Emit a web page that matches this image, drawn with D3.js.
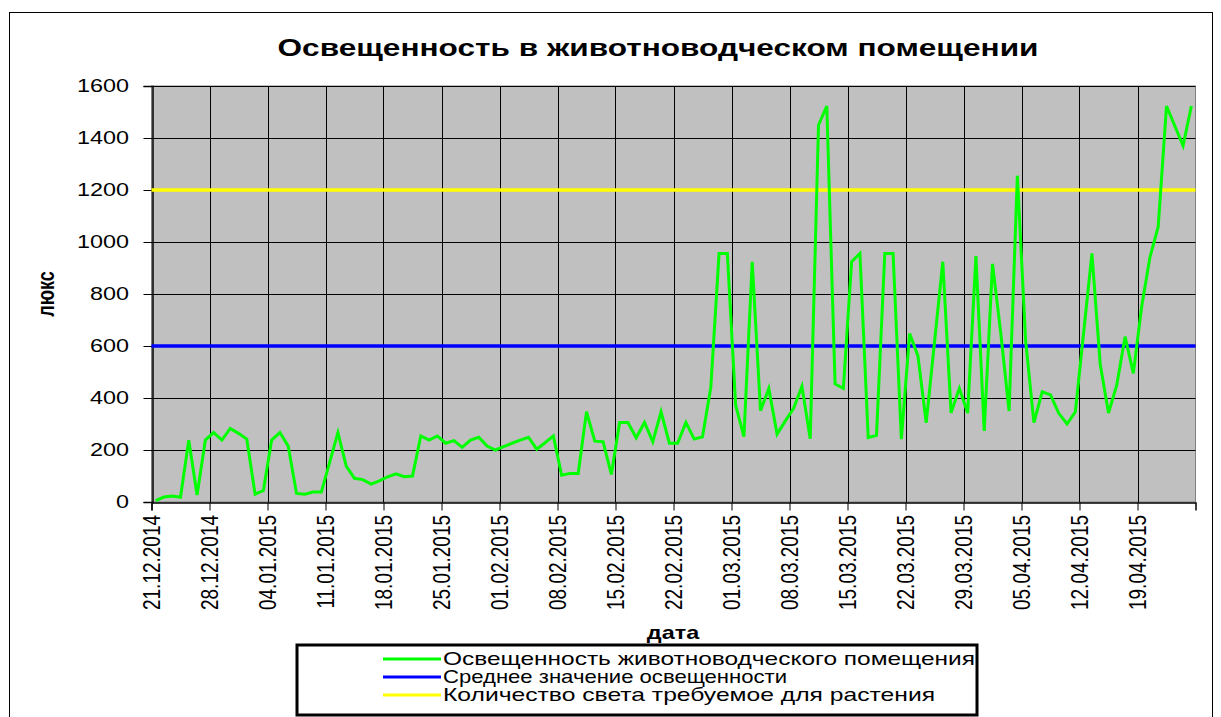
<!DOCTYPE html>
<html><head><meta charset="utf-8">
<script src="https://cdn.jsdelivr.net/npm/d3@7"></script>
<style>
body{margin:0;background:#fff}
svg{display:block}
text{font-family:"Liberation Sans",Arial,sans-serif;fill:#000}
</style>
</head><body>
<svg id="chart" width="1221" height="717"></svg>
<script>
// ---------------- DATA ----------------
const chartTitle = "Освещенность в животноводческом помещении";
const xAxisTitle = "дата";
const yAxisTitle = "люкс";

const dates = [
  "21.12.2014","22.12.2014","23.12.2014","24.12.2014","25.12.2014","26.12.2014","27.12.2014","28.12.2014","29.12.2014","30.12.2014","31.12.2014",
  "01.01.2015","02.01.2015","03.01.2015","04.01.2015","05.01.2015","06.01.2015","07.01.2015","08.01.2015","09.01.2015","10.01.2015",
  "12.01.2015","13.01.2015","14.01.2015","15.01.2015","16.01.2015","17.01.2015","18.01.2015","19.01.2015","20.01.2015","21.01.2015",
  "22.01.2015","23.01.2015","24.01.2015","25.01.2015","26.01.2015","27.01.2015","28.01.2015","29.01.2015","30.01.2015","31.01.2015",
  "01.02.2015","02.02.2015","03.02.2015","04.02.2015","05.02.2015","06.02.2015","07.02.2015","08.02.2015","09.02.2015","10.02.2015",
  "11.02.2015","12.02.2015","13.02.2015","14.02.2015","15.02.2015","16.02.2015","17.02.2015","18.02.2015","19.02.2015","20.02.2015",
  "21.02.2015","22.02.2015","23.02.2015","24.02.2015","25.02.2015","26.02.2015","27.02.2015","28.02.2015",
  "01.03.2015","02.03.2015","03.03.2015","04.03.2015","05.03.2015","06.03.2015","07.03.2015","08.03.2015","09.03.2015","10.03.2015",
  "11.03.2015","12.03.2015","13.03.2015","14.03.2015","15.03.2015","16.03.2015","17.03.2015","18.03.2015","19.03.2015","20.03.2015",
  "21.03.2015","22.03.2015","23.03.2015","24.03.2015",
  "26.03.2015","27.03.2015","28.03.2015","29.03.2015","30.03.2015","31.03.2015",
  "01.04.2015","02.04.2015","03.04.2015","04.04.2015","05.04.2015","06.04.2015","07.04.2015","08.04.2015","09.04.2015","10.04.2015","11.04.2015",
  "13.04.2015","14.04.2015","15.04.2015","16.04.2015","17.04.2015","18.04.2015","19.04.2015","20.04.2015","21.04.2015","22.04.2015",
  "24.04.2015","25.04.2015"
];

const illuminance = [
  5,19,23,18,238,27,238,267,238,283,264,
  242,30,44,238,267,215,33,30,38,38,
  267,138,91,86,69,81,97,108,97,100,
  254,238,254,226,236,210,238,249,215,200,
  213,226,238,249,203,228,254,103,110,110,
  347,234,232,106,306,306,247,306,232,347,
  226,226,306,242,251,440,956,956,
  373,251,924,351,437,261,312,360,445,243,
  1449,1523,454,437,924,956,248,256,956,956,
  242,648,562,305,
  924,343,437,342,946,273,
  916,649,350,1255,620,305,424,412,341,300,347,
  956,530,342,450,636,495,751,941,1059,1523,
  1370,1523
];

const averageLevel = 600;     // Среднее значение освещенности
const requiredLevel = 1200;   // Количество света требуемое для растения

const xDomain = ["21.12.2014","26.04.2015"];
const xTickLabels = ["21.12.2014","28.12.2014","04.01.2015","11.01.2015","18.01.2015","25.01.2015","01.02.2015","08.02.2015",
  "15.02.2015","22.02.2015","01.03.2015","08.03.2015","15.03.2015","22.03.2015","29.03.2015","05.04.2015","12.04.2015","19.04.2015"];
const yTicks = [0,200,400,600,800,1000,1200,1400,1600];

const seriesNames = ["Освещенность животноводческого помещения","Среднее значение освещенности","Количество света требуемое для растения"];
const seriesColors = ["#00FF00","#0000FF","#FFFF00"];

// ---------------- DRAW ----------------
const SX = 1.3; // horizontal text stretch as in the original
const parse = d3.utcParse("%d.%m.%Y");
const svg = d3.select("#chart");

const plot = {left:151.5, right:1195.5, top:86, bottom:502};
const x = d3.scaleUtc().domain(xDomain.map(parse)).range([plot.left, plot.right]);
const y = d3.scaleLinear().domain([0,1600]).range([plot.bottom, plot.top]);
const mid = d => d3.utcHour.offset(d, 12);

// outer frame
svg.append("rect").attr("x",9.5).attr("y",12.5).attr("width",1203).attr("height",720)
  .attr("fill","#fff").attr("stroke","#000").attr("stroke-width",1);

// title
svg.append("text").attr("transform",`translate(658,56) scale(${SX},1)`)
  .attr("text-anchor","middle").attr("font-weight","bold").attr("font-size",23)
  .attr("textLength",761/SX).attr("lengthAdjust","spacingAndGlyphs").text(chartTitle);

// plot background
svg.append("rect").attr("x",plot.left).attr("y",plot.top)
  .attr("width",plot.right-plot.left).attr("height",plot.bottom-plot.top)
  .attr("fill","#C0C0C0").attr("stroke","#808080").attr("stroke-width",1);

// horizontal gridlines
svg.append("g").selectAll("line").data(yTicks.filter(v=>v>0)).join("line")
  .attr("x1",plot.left).attr("x2",plot.right)
  .attr("y1",d=>Math.round(y(d))+0.5).attr("y2",d=>Math.round(y(d))+0.5)
  .attr("stroke","#000").attr("stroke-width",1);

// vertical gridlines
const xTickDates = xTickLabels.map(parse);
svg.append("g").selectAll("line").data(xTickDates.slice(1)).join("line")
  .attr("x1",d=>Math.round(x(d))+0.5).attr("x2",d=>Math.round(x(d))+0.5)
  .attr("y1",plot.top).attr("y2",plot.bottom)
  .attr("stroke","#000").attr("stroke-width",1);

// Y axis
const yAxis = svg.append("g").attr("transform",`translate(${Math.round(plot.left)+0.5},0)`)
  .call(d3.axisLeft(y).tickValues(yTicks).tickSize(9).tickFormat(""));
yAxis.select(".domain").attr("stroke","#000").attr("stroke-width",1.5);
yAxis.selectAll(".tick line").attr("stroke","#000");
svg.append("g").selectAll("text").data(yTicks).join("text")
  .attr("transform",d=>`translate(129,${y(d)}) scale(${SX},1)`)
  .attr("text-anchor","end").attr("dy","0.36em").attr("font-size",18)
  .text(d=>d);

// X axis
const xAxis = svg.append("g").attr("transform",`translate(0,${plot.bottom+0.5})`)
  .call(d3.axisBottom(x).tickValues(xTickDates).tickSize(8).tickFormat(""));
xAxis.select(".domain").attr("stroke","#000").attr("stroke-width",1.5);
xAxis.selectAll(".tick line").attr("stroke","#000");
svg.append("g").selectAll("text").data(xTickLabels).join("text")
  .attr("transform",d=>`translate(${x(parse(d))},515) scale(${SX},1) rotate(-90)`)
  .attr("text-anchor","end").attr("dy","0.36em").attr("font-size",19)
  .text(d=>d);

// axis titles
svg.append("text").attr("transform",`translate(46,294) scale(${SX},1) rotate(-90)`)
  .attr("text-anchor","middle").attr("dy","0.36em").attr("font-weight","bold").attr("font-size",18)
  .text(yAxisTitle);
svg.append("text").attr("transform",`translate(673,639) scale(${SX},1)`)
  .attr("text-anchor","middle").attr("font-weight","bold").attr("font-size",18)
  .text(xAxisTitle);

// series
const series = dates.map((d,i)=>({date:parse(d), v:illuminance[i]}));
const line = d3.line().x(d=>x(mid(d.date))).y(d=>y(d.v));
const hLine = d3.line().x(d=>x(d.date)).y(d=>y(d.v));
const domainDates = xDomain.map(parse);

svg.append("path").datum(domainDates.map(d=>({date:d, v:averageLevel})))
  .attr("d",hLine).attr("fill","none").attr("stroke",seriesColors[1]).attr("stroke-width",3.5);
svg.append("path").datum(domainDates.map(d=>({date:d, v:requiredLevel})))
  .attr("d",hLine).attr("fill","none").attr("stroke",seriesColors[2]).attr("stroke-width",3.5);
svg.append("path").datum(series)
  .attr("d",line).attr("fill","none").attr("stroke",seriesColors[0]).attr("stroke-width",3)
  .attr("stroke-linejoin","miter");

// legend
const lg = svg.append("g");
lg.append("rect").attr("x",297).attr("y",645).attr("width",680).attr("height",70)
  .attr("fill","#fff").attr("stroke","#000").attr("stroke-width",3);
const legendLens = [532,344,492];
seriesNames.forEach((name,i)=>{
  const cy = 659 + i*18;
  lg.append("line").attr("x1",383).attr("x2",441).attr("y1",cy).attr("y2",cy)
    .attr("stroke",seriesColors[i]).attr("stroke-width",3);
  lg.append("text").attr("transform",`translate(443,${cy}) scale(${SX},1)`)
    .attr("dy","0.36em").attr("font-size",18)
    .attr("textLength",legendLens[i]/SX).attr("lengthAdjust","spacingAndGlyphs")
    .text(name);
});
</script>
</body></html>
